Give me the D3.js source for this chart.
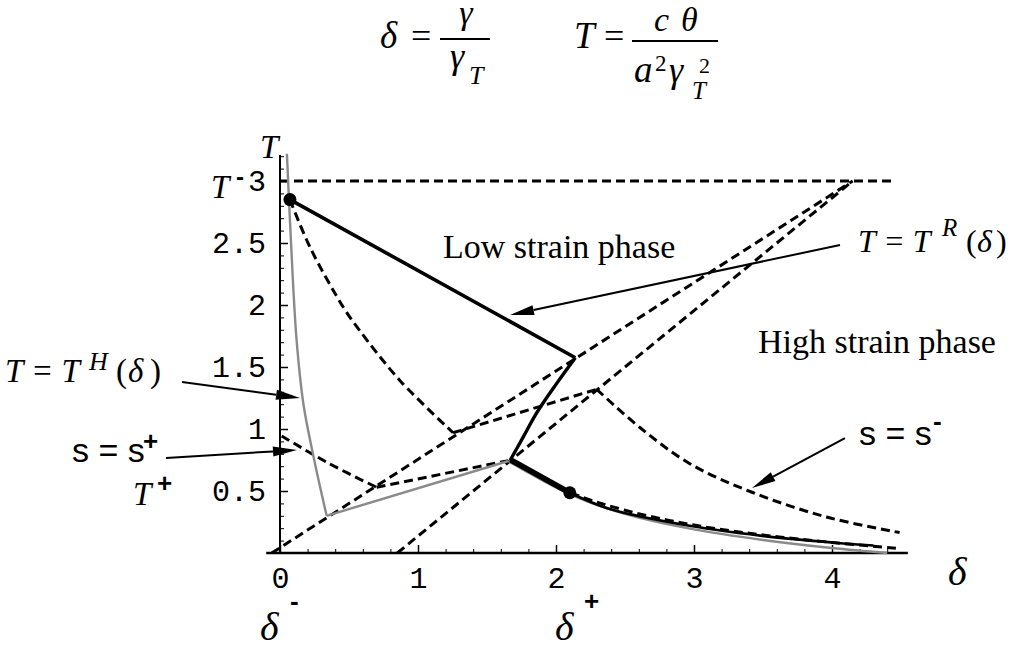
<!DOCTYPE html>
<html>
<head>
<meta charset="utf-8">
<script src="https://cdn.jsdelivr.net/npm/d3@7"></script>
<style>
  body { margin: 0; background: #fff; }
</style>
</head>
<body>
<svg width="1030" height="650"></svg>
<script>
// values, in (delta, T) units
var xMajor = [0, 1, 2, 3, 4];
var yMajor = [0.5, 1, 1.5, 2, 2.5, 3];

var topLine = [[0, 3], [4.46, 3]];
var lineB = [[-0.06, 0], [4.15, 3]];
var lineC = [[0.85, 0], [4.15, 3]];

var sMinusA = [[0.072, 2.85], [0.22, 2.46], [0.46, 1.98], [0.58, 1.79], [0.87, 1.39], [1.254, 0.97]];
var sMinusB = [[1.254, 0.97], [2.295, 1.32]];
var sMinusC = [[2.295, 1.32], [2.61, 1.01], [2.97, 0.72], [3.42, 0.49], [3.96, 0.29], [4.49, 0.165]];

var sPlusA = [[0.012, 0.944], [0.35, 0.725], [0.70, 0.53]];
var sPlusB = [[0.70, 0.53], [1.655, 0.745]];
var sPlusC = [[1.655, 0.745], [2.1, 0.49], [2.5, 0.345], [3.0, 0.225], [3.5, 0.145], [4.0, 0.085], [4.49, 0.035]];

var tHA = [[0.05, 3.22], [0.08, 2.5], [0.12, 1.72], [0.17, 1.2], [0.25, 0.74], [0.338, 0.30]];
var tHB = [[0.338, 0.30], [1.655, 0.742]];
var tHC = [[1.655, 0.742], [2.1, 0.475], [2.5, 0.315], [3.0, 0.19], [3.5, 0.105], [4.0, 0.04], [4.4, 0]];

var tRA = [[0.072, 2.85], [2.14, 1.575]];
var tRB = [[2.14, 1.575], [2.0, 1.36], [1.86, 1.13], [1.76, 0.93], [1.67, 0.752]];
var tRC = [[1.67, 0.752], [2.10, 0.486]];
var tRD = [[2.10, 0.486], [2.39, 0.355], [2.99, 0.215], [3.48, 0.14], [4.0, 0.085], [4.3, 0.06]];

var dots = [[0.072, 2.85], [2.10, 0.486]];

// arrows: [tail, tip]
var arrows = [
    [[4.058, 2.484], [1.667, 1.919]],
    [[-0.71, 1.379], [0.145, 1.25]],
    [[-0.826, 0.766], [0.123, 0.831]],
    [[4.094, 0.927], [3.42, 0.524]]
];

var svg = d3.select("svg");
var serif = "'Liberation Serif', 'Times New Roman', serif";
var sans = "'Liberation Sans', Arial, sans-serif";
var mono = "'Liberation Mono', 'Courier New', monospace";

var x = d3.scaleLinear().domain([0, 4]).range([280, 832]);
var y = d3.scaleLinear().domain([0, 3]).range([553, 181]);

var curved = d3.line()
    .x(function(d) { return x(d[0]); })
    .y(function(d) { return y(d[1]); })
    .curve(d3.curveCatmullRom.alpha(0.5));
var straight = d3.line()
    .x(function(d) { return x(d[0]); })
    .y(function(d) { return y(d[1]); });

// AXES

var xAxisG = svg.append("g")
    .attr("transform", "translate(0," + y(0) + ")")
    .call(d3.axisBottom(x).tickValues(xMajor).tickSize(-8).tickPadding(14).tickFormat(d3.format("d")));
xAxisG.select(".domain").remove();
xAxisG.selectAll("text").attr("font-family", mono).attr("font-size", 30).attr("fill", "#000");
xAxisG.selectAll("line").attr("stroke-width", 1.5);

var xMinor = d3.range(-0.0, 4.6, 0.2).filter(function(v) { return Math.abs(v - Math.round(v)) > 0.01; });
var xMinorG = svg.append("g")
    .attr("transform", "translate(0," + y(0) + ")")
    .call(d3.axisBottom(x).tickValues(xMinor).tickSize(-4).tickFormat(""));
xMinorG.select(".domain").remove();

var yAxisG = svg.append("g")
    .attr("transform", "translate(" + x(0) + ",0)")
    .call(d3.axisLeft(y).tickValues(yMajor).tickSize(-8).tickPadding(14).tickFormat(function(d) { return d; }));
yAxisG.select(".domain").remove();
yAxisG.selectAll("text").attr("font-family", mono).attr("font-size", 30).attr("fill", "#000");
yAxisG.selectAll("line").attr("stroke-width", 1.5);

var yMinor = d3.range(0.1, 3.25, 0.1).filter(function(v) { return Math.abs(v * 2 - Math.round(v * 2)) > 0.01; });
var yMinorG = svg.append("g")
    .attr("transform", "translate(" + x(0) + ",0)")
    .call(d3.axisLeft(y).tickValues(yMinor).tickSize(-4).tickFormat(""));
yMinorG.select(".domain").remove();

svg.append("line")
    .attr("x1", x(-0.1)).attr("x2", x(4.55))
    .attr("y1", y(0)).attr("y2", y(0))
    .attr("stroke", "#000").attr("stroke-width", 2.5);
svg.append("line")
    .attr("x1", x(0)).attr("x2", x(0))
    .attr("y1", y(0)).attr("y2", y(3.21))
    .attr("stroke", "#000").attr("stroke-width", 2);

// DASHED LINES

[topLine, lineB, lineC, sMinusB, sPlusB].forEach(function(d) {
    svg.append("path").datum(d)
        .attr("d", straight)
        .attr("fill", "none").attr("stroke", "#000")
        .attr("stroke-width", 3).attr("stroke-dasharray", "9,5");
});
[sMinusA, sMinusC, sPlusA, sPlusC].forEach(function(d) {
    svg.append("path").datum(d)
        .attr("d", curved)
        .attr("fill", "none").attr("stroke", "#000")
        .attr("stroke-width", 3).attr("stroke-dasharray", "9,5");
});

// T^H (grey)

[tHA, tHC].forEach(function(d) {
    svg.append("path").datum(d).attr("d", curved)
        .attr("fill", "none").attr("stroke", "#8a8a8a").attr("stroke-width", 2.4);
});
svg.append("path").datum(tHB).attr("d", straight)
    .attr("fill", "none").attr("stroke", "#8a8a8a").attr("stroke-width", 2.4);

// T^R (black)

svg.append("path").datum(tRA).attr("d", straight)
    .attr("fill", "none").attr("stroke", "#000").attr("stroke-width", 3.6);
svg.append("path").datum(tRB).attr("d", curved)
    .attr("fill", "none").attr("stroke", "#000").attr("stroke-width", 3.4);
svg.append("path").datum(tRC).attr("d", straight)
    .attr("fill", "none").attr("stroke", "#000").attr("stroke-width", 5.5);
svg.append("path").datum(tRD).attr("d", curved)
    .attr("fill", "none").attr("stroke", "#000").attr("stroke-width", 2.6);

svg.selectAll("circle.dot")
    .data(dots)
    .enter()
    .append("circle")
    .attr("class", "dot")
    .attr("cx", function(d) { return x(d[0]); })
    .attr("cy", function(d) { return y(d[1]); })
    .attr("r", 6.5)
    .attr("fill", "#000");

// ARROWS

arrows.forEach(function(a) {
    var x1 = x(a[0][0]), y1 = y(a[0][1]), x2 = x(a[1][0]), y2 = y(a[1][1]);
    var ang = Math.atan2(y2 - y1, x2 - x1);
    var len = 24, half = 5;
    var bx = x2 - len * Math.cos(ang), by = y2 - len * Math.sin(ang);
    svg.append("line")
        .attr("x1", x1).attr("y1", y1).attr("x2", bx).attr("y2", by)
        .attr("stroke", "#000").attr("stroke-width", 2);
    svg.append("path")
        .attr("d", "M" + x2 + "," + y2 +
            "L" + (bx + half * Math.sin(ang)) + "," + (by - half * Math.cos(ang)) +
            "L" + (bx - half * Math.sin(ang)) + "," + (by + half * Math.cos(ang)) + "Z")
        .attr("fill", "#000");
});

// TEXT

function txt(x0, y0, str, o) {
    o = o || {};
    return svg.append("text")
        .attr("x", x0).attr("y", y0)
        .attr("font-family", o.f || serif)
        .attr("font-style", o.i ? "italic" : "normal")
        .attr("font-weight", o.b ? "bold" : "normal")
        .attr("font-size", o.s || 30)
        .attr("text-anchor", o.a || "start")
        .text(str);
}

// title formulas
txt(380, 48, "\u03b4", {i: 1, s: 37});
txt(411, 48, "=", {s: 36});
svg.append("line").attr("x1", 440).attr("x2", 490).attr("y1", 39).attr("y2", 39).attr("stroke", "#000").attr("stroke-width", 1.8);
txt(466, 24, "\u03b3", {i: 1, s: 34, a: "middle"});
txt(450, 68, "\u03b3", {i: 1, s: 36});
txt(469, 84, "T", {i: 1, s: 26});

txt(574, 48, "T", {i: 1, s: 37});
txt(604, 48, "=", {s: 36});
svg.append("line").attr("x1", 632).attr("x2", 718).attr("y1", 41).attr("y2", 41).attr("stroke", "#000").attr("stroke-width", 1.8);
txt(654, 31, "c", {i: 1, s: 34});
txt(681, 31, "\u03b8", {i: 1, s: 34});
txt(634, 82, "a", {i: 1, s: 37});
txt(655, 71, "2", {s: 23});
txt(669, 82, "\u03b3", {i: 1, s: 36});
txt(692, 99, "T", {i: 1, s: 25});
txt(699, 73, "2", {s: 22});

// axis names
txt(260, 158, "T", {i: 1, s: 33});
txt(948, 585, "\u03b4", {i: 1, s: 40});

// T- and T+
txt(211, 198, "T", {i: 1, s: 33});
txt(236, 185, "-", {f: sans, b: 1, s: 24});
txt(133, 505, "T", {i: 1, s: 33});
txt(157, 492, "+", {f: sans, b: 1, s: 26});

// delta- and delta+
txt(260, 640, "\u03b4", {i: 1, s: 40});
txt(290, 610, "-", {f: sans, b: 1, s: 26});
txt(555, 640, "\u03b4", {i: 1, s: 40});
txt(584, 610, "+", {f: sans, b: 1, s: 26});

// phases
txt(443, 258, "Low strain phase", {s: 34});
txt(758, 353, "High strain phase", {s: 34});

// T = T^R(delta)
txt(858, 252, "T = T", {i: 1, s: 32});
txt(942, 236, "R", {i: 1, s: 25});
txt(966, 252, "(", {s: 32});
txt(977, 252, "\u03b4", {i: 1, s: 32});
txt(996, 252, ")", {s: 32});

// T = T^H(delta)
txt(5, 382, "T = T", {i: 1, s: 33});
txt(89, 370, "H", {i: 1, s: 26});
txt(116, 382, "(", {s: 33});
txt(128, 382, "\u03b4", {i: 1, s: 33});
txt(150, 382, ")", {s: 33});

// s = s+
txt(72, 462, "s = s", {f: sans, s: 34});
txt(143, 450, "+", {f: sans, b: 1, s: 26});

// s = s-
txt(859, 445, "s = s", {f: sans, s: 34});
txt(933, 430, "-", {f: sans, b: 1, s: 26});
</script>
</body>
</html>
